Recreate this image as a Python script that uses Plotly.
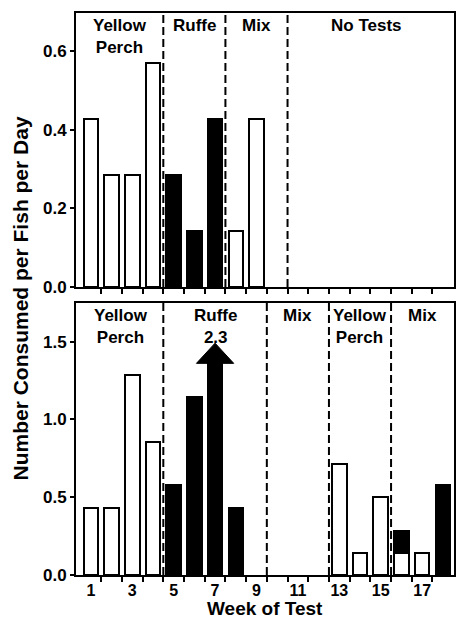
import plotly.graph_objects as go

WEEKS = list(range(1, 19))

# Top panel (number consumed per fish per day)
TOP_PERCH = [0.429, 0.286, 0.286, 0.571, 0, 0, 0, 0.143, 0.429, 0, 0, 0, 0, 0, 0, 0, 0, 0]
TOP_RUFFE = [0, 0, 0, 0, 0.286, 0.143, 0.429, 0, 0, 0, 0, 0, 0, 0, 0, 0, 0, 0]

# Bottom panel
BOT_PERCH = [0.429, 0.429, 1.286, 0.857, 0, 0, 0, 0, 0, 0, 0, 0, 0.714, 0.143, 0.5, 0.143, 0.143, 0]
BOT_RUFFE = [0, 0, 0, 0, 0.58, 1.143, 2.3, 0.429, 0, 0, 0, 0, 0, 0, 0, 0.143, 0, 0.58]

TOP_SECTIONS = [("Yellow<br>Perch", 2.4), ("Ruffe", 6.0), ("Mix", 9.0), ("No Tests", 14.3)]
TOP_DIVIDERS = [4.5, 7.5, 10.5]
BOT_SECTIONS = [("Yellow<br>Perch", 2.45), ("Ruffe", 7.0), ("Mix", 11.0), ("Yellow<br>Perch", 14.0), ("Mix", 17.0)]
BOT_DIVIDERS = [4.5, 9.5, 12.5, 15.5]

TOP_YTICKS = [0.0, 0.2, 0.4, 0.6]
BOT_YTICKS = [0.0, 0.5, 1.0, 1.5]
X_LABELS = [1, 3, 5, 7, 9, 11, 13, 15, 17]
X_MINOR = [w + 0.5 for w in range(1, 18)]

TOP_YMAX = 0.698
BOT_YMAX = 1.748
ARROW_BASE = 1.36   # where the off-scale bar is cut and the arrow starts
ARROW_TIP = 1.49

FONT = "Liberation Sans"
BW = 0.7


def nz(vals):
    return [v if v else None for v in vals]


def f(size):
    return dict(family=FONT, size=size, color="black", weight="bold")


fig = go.Figure()

open_style = dict(color="white", line=dict(color="black", width=2))
black_style = dict(color="black", line=dict(color="black", width=2))

fig.add_trace(go.Bar(x=WEEKS, y=nz(TOP_PERCH), marker=open_style, width=BW, xaxis="x", yaxis="y"))
fig.add_trace(go.Bar(x=WEEKS, y=nz(TOP_RUFFE), marker=black_style, width=BW, xaxis="x", yaxis="y"))

bot_ruffe_disp = [min(v, ARROW_BASE) if v else None for v in BOT_RUFFE]
fig.add_trace(go.Bar(x=WEEKS, y=nz(BOT_PERCH), marker=open_style, width=BW, xaxis="x2", yaxis="y2"))
fig.add_trace(go.Bar(x=WEEKS, y=bot_ruffe_disp, marker=black_style, width=BW, xaxis="x2", yaxis="y2"))

# arrow head on the off-scale bar
for w, v in zip(WEEKS, BOT_RUFFE):
    if v > BOT_YMAX:
        fig.add_shape(type="path", xref="x2", yref="y2",
                      path=f"M {w-0.9},{ARROW_BASE} L {w+0.9},{ARROW_BASE} L {w},{ARROW_TIP} Z",
                      fillcolor="black", line=dict(color="black", width=1))
        BOT_SECTIONS = [(t + f"<br>{v}" if abs(x - w) < 0.01 else t, x) for t, x in BOT_SECTIONS]

for d in TOP_DIVIDERS:
    fig.add_shape(type="line", xref="x", yref="y domain", x0=d, x1=d, y0=0, y1=1,
                  line=dict(color="black", width=2, dash="8px,4px"))
for d in BOT_DIVIDERS:
    fig.add_shape(type="line", xref="x2", yref="y2 domain", x0=d, x1=d, y0=0, y1=1,
                  line=dict(color="black", width=2, dash="8px,4px"))

for t, x in TOP_SECTIONS:
    fig.add_annotation(text=t, x=x, xref="x", y=1, yref="y domain", yanchor="top",
                       showarrow=False, font=f(17), yshift=-1)
for t, x in BOT_SECTIONS:
    fig.add_annotation(text=t, x=x, xref="x2", y=1, yref="y2 domain", yanchor="top",
                       showarrow=False, font=f(17), yshift=-1)

fig.add_annotation(text="Number Consumed per Fish per Day", textangle=-90,
                   x=0, xref="paper", xanchor="center", xshift=-56,
                   y=0.492, yref="paper", yanchor="middle", showarrow=False,
                   font=f(21))
fig.add_annotation(text="Week of Test", x=0.5, xref="paper", y=0, yref="paper",
                   yanchor="middle", yshift=-33, showarrow=False,
                   font=f(19))

XR = [0.283, 18.54]
axis_common = dict(showline=True, linecolor="black", linewidth=2, mirror=True,
                   showgrid=False, zeroline=False, automargin=False)

fig.update_layout(
    width=456, height=619,
    margin=dict(l=76, r=2, t=13, b=44),
    paper_bgcolor="white", plot_bgcolor="white",
    barmode="stack", bargap=0, showlegend=False,
    font=f(17),
    xaxis=dict(domain=[0, 1], range=XR, anchor="y", tickvals=X_MINOR, ticks="outside",
               ticklen=5, tickwidth=2, tickcolor="black", showticklabels=False, **axis_common),
    yaxis=dict(domain=[0.5125, 1], range=[0, TOP_YMAX], anchor="x", tickvals=TOP_YTICKS,
               tickformat=".1f", ticks="outside", ticklen=4, tickwidth=2, tickcolor="black",
               tickfont=f(17), **axis_common),
    xaxis2=dict(domain=[0, 1], range=XR, anchor="y2", tickvals=X_LABELS, ticktext=[str(v) for v in X_LABELS],
                ticks="outside", ticklen=0, tickcolor="rgba(0,0,0,0)",
                minor=dict(tickvals=X_MINOR, ticks="outside", ticklen=5, tickwidth=2, tickcolor="black"),
                tickfont=f(16), **axis_common),
    yaxis2=dict(domain=[0, 0.484], range=[0, BOT_YMAX], anchor="x2", tickvals=BOT_YTICKS,
                tickformat=".1f", ticks="outside", ticklen=4, tickwidth=2, tickcolor="black",
                tickfont=f(17), **axis_common),
)

fig.write_html("out.html", config={"displayModeBar": False},
               post_script="document.body.style.margin='0';document.body.style.overflow='hidden';")
